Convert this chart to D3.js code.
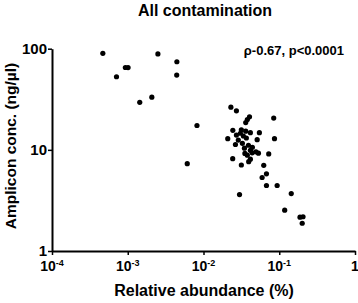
<!DOCTYPE html>
<html>
<head>
<meta charset="utf-8">
<script src="https://cdn.jsdelivr.net/npm/d3@7"></script>
<style>
  body { margin: 0; background: white; }
  text { font-family: "Liberation Sans", Arial, sans-serif; font-weight: bold; }
</style>
</head>
<body>
<div id="plot"></div>
<script>
// relative abundance (%) of each sample
const abundance = [
  0.000469, 0.00093, 0.00101, 0.00071, 0.00144, 0.00208, 0.0025, 0.00445, 0.00443, 0.0082, 0.0061,
  0.0230, 0.0272, 0.0405, 0.0379, 0.0361, 0.0845, 0.0244, 0.0316, 0.0547, 0.0416,
  0.0209, 0.0865, 0.0511, 0.0264,
  0.0307, 0.0336, 0.0288, 0.0368, 0.0326, 0.0392, 0.0347, 0.0416, 0.0442, 0.0379, 0.0272, 0.0361,
  0.0726, 0.0352, 0.0439, 0.0492, 0.0531, 0.0243, 0.0316, 0.0395, 0.0416, 0.0624,
  0.0678, 0.0594, 0.0678, 0.0938, 0.144, 0.0299, 0.118, 0.188, 0.206, 0.201
];
// amplicon concentration (ng/ul), same order
const concentration = [
  90, 65.2, 65, 52.8, 29.5, 33.2, 88.7, 74.3, 54.9, 17.4, 7.3,
  26.4, 24.3, 21.2, 19.9, 18.6, 20.6, 15.6, 15.8, 14.8, 14.8,
  12.9, 12.9, 12.6, 11.3,
  14.6, 13.7, 12.5, 13.1, 11.6, 11.1, 10.4, 9.9, 10.6, 8.86, 14.0, 15.3,
  9.12, 9.21, 9.34, 9.55, 9.27, 8.18, 7.08, 7.64, 8.09, 7.03,
  5.79, 5.33, 4.44, 4.44, 3.70, 3.61, 2.53, 2.16, 2.18, 1.88
];
const xTicks = [1e-4, 1e-3, 1e-2, 1e-1, 1];
const xTickExp = ["-4", "-3", "-2", "-1", ""];
const yTicks = [1, 10, 100];

const title = "All contamination";
const statsLabel = "\u03c1-0.67, p<0.0001";

let width = 358, height = 303;

let svg = d3.select("#plot")
  .append("svg")
  .attr("width", width)
  .attr("height", height);

let x = d3.scaleLog().domain([1e-4, 1]).range([52, 355]);
let y = d3.scaleLog().domain([1, 100]).range([251, 48.7]);

// y axis
let yAxis = svg.append("g")
  .attr("transform", "translate(" + x(1e-4) + ",0)")
  .call(d3.axisLeft(y).tickValues(yTicks).tickFormat(d3.format("d")).tickSize(4).tickPadding(1).tickSizeOuter(0));
yAxis.select(".domain").attr("stroke-width", 2).attr("stroke", "black");
yAxis.selectAll(".tick line").attr("stroke-width", 1.5);
yAxis.selectAll(".tick text").attr("font-size", 15).attr("fill", "black")
  .style("font-family", "Liberation Sans, Arial, sans-serif");

// x axis
let xAxis = svg.append("g")
  .attr("transform", "translate(0," + y(1) + ")")
  .call(d3.axisBottom(x).tickValues(xTicks).tickFormat("").tickSize(4).tickSizeOuter(0));
xAxis.select(".domain").attr("stroke-width", 2).attr("stroke", "black");
xAxis.selectAll(".tick line").attr("stroke-width", 1.5);

// x tick labels with superscript powers
let xl = svg.append("g").selectAll("text")
  .data(xTicks)
  .enter()
  .append("text")
  .attr("x", d => x(d))
  .attr("y", 271)
  .attr("text-anchor", "middle")
  .attr("font-size", 14);
xl.append("tspan").text((d, i) => xTickExp[i] ? "10" : "1");
xl.append("tspan")
  .attr("dy", -5)
  .attr("font-size", 9)
  .text((d, i) => xTickExp[i]);

// dots
svg.append("g").selectAll("circle")
  .data(abundance)
  .enter()
  .append("circle")
  .attr("cx", d => x(d))
  .attr("cy", (d, i) => y(concentration[i]))
  .attr("r", 2.6)
  .attr("fill", "black");

// title and labels
svg.append("text")
  .attr("x", 205)
  .attr("y", 16)
  .attr("text-anchor", "middle")
  .attr("font-size", 16)
  .text(title);

svg.append("text")
  .attr("x", 344)
  .attr("y", 55)
  .attr("text-anchor", "end")
  .attr("font-size", 13)
  .text(statsLabel);

svg.append("text")
  .attr("x", 204)
  .attr("y", 296)
  .attr("text-anchor", "middle")
  .attr("font-size", 16)
  .text("Relative abundance (%)");

svg.append("text")
  .attr("transform", "translate(16,146) rotate(-90)")
  .attr("text-anchor", "middle")
  .attr("font-size", 15.5)
  .text("Amplicon conc. (ng/\u00b5l)");
</script>
</body>
</html>
